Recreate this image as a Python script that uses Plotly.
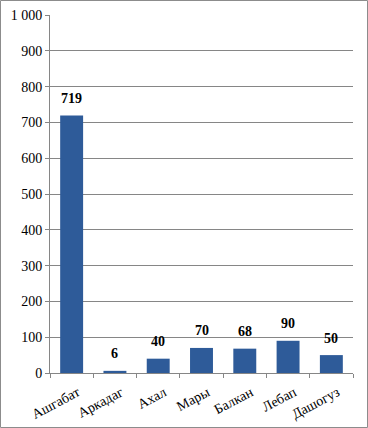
import plotly.graph_objects as go

categories = ["Ашгабат", "Аркадаг", "Ахал", "Мары", "Балкан", "Лебап", "Дашогуз"]
values = [719, 6, 40, 70, 68, 90, 50]
y_ticks = [0, 100, 200, 300, 400, 500, 600, 700, 800, 900, 1000]

W, H = 368, 428
ML, MR, MT, MB = 50, 15, 15, 55
PW, PH = W - ML - MR, H - MT - MB
SERIF = "Liberation Serif, Times New Roman, serif"

fig = go.Figure()
fig.add_trace(go.Bar(
    x=categories, y=values,
    marker=dict(color="#2E5B99", line=dict(width=0)),
    width=0.53,
    hoverinfo="x+y",
))

for c, v in zip(categories, values):
    fig.add_annotation(x=c, y=v, text=f"<b>{v}</b>", showarrow=False,
                       yshift=17, font=dict(family=SERIF, size=14, color="#000"))

# outer border
fig.add_shape(type="rect", xref="paper", yref="paper",
              x0=(0.5 - ML) / PW, x1=(W - 0.5 - ML) / PW,
              y0=-(H - 0.5 - MT - PH) / PH, y1=(MT - 0.5) / PH + 1,
              line=dict(color="#8c8c8c", width=1), layer="below")

fig.update_layout(
    width=W, height=H,
    margin=dict(l=ML, r=MR, t=MT, b=MB, autoexpand=False),
    paper_bgcolor="white", plot_bgcolor="white",
    separators=". ",
    showlegend=False,
    font=dict(family=SERIF, size=14, color="#000"),
    xaxis=dict(
        type="category", tickson="boundaries", ticks="outside", ticklen=4,
        tickcolor="#868686", showline=True, linecolor="#868686", linewidth=1,
        showgrid=False, tickangle=-28, tickfont=dict(family=SERIF, size=14),
        ticklabelstandoff=5, ticklabelshift=6,
        range=[-0.5, 6.5], automargin=False,
    ),
    yaxis=dict(
        range=[0, 1000], tickvals=y_ticks, tickformat=",d",
        showgrid=True, gridcolor="#868686", gridwidth=1,
        showline=True, linecolor="#868686", linewidth=1,
        ticks="outside", ticklen=4, tickcolor="#868686",
        tickfont=dict(family=SERIF, size=14), zeroline=False, automargin=False,
    ),
)

fig.write_html("out.html", config={"displayModeBar": False},
               post_script="document.body.style.margin='0';")
